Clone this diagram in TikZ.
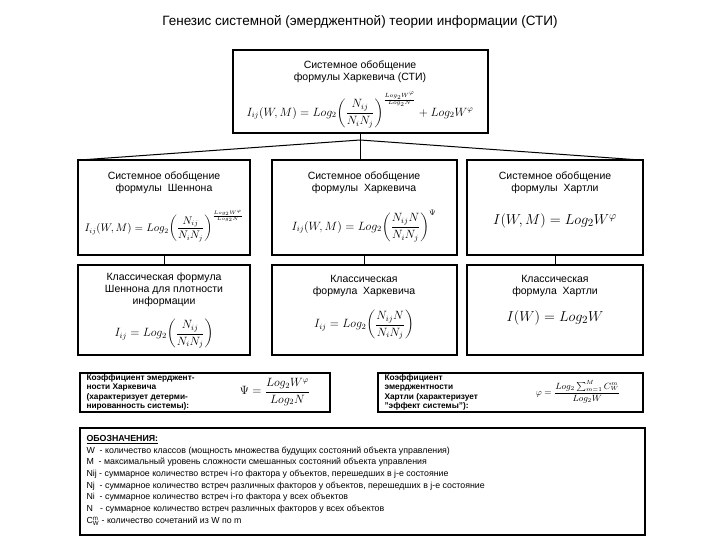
\documentclass[tikz,border=0pt]{standalone}
\usepackage{fontspec}
\usepackage{amsmath}
\setmainfont{Liberation Sans}
\begin{document}
\begin{tikzpicture}[x=1pt,y=-1pt,
  bx/.style={draw,line width=1.2pt,inner sep=0pt},
  txt/.style={align=center,font=\fontsize{10.5}{12}\selectfont},
  fm/.style={font=\fontsize{12}{14}\selectfont},
  ln/.style={line width=1pt}]
\useasboundingbox (0,0) rectangle (720,540);
\node[font=\fontsize{13.5}{15}\selectfont] (title) at (360,22) {Генезис системной (эмерджентной) теории информации (СТИ)};
% top
\draw[bx] (233,50) rectangle (488,133);
\node[txt] (t1) at (360,72) {Системное обобщение\\формулы Харкевича (СТИ)};
\node[fm] (t2) at (360,110) {$I_{ij}(W,M)=Log_2\!\left(\dfrac{N_{ij}}{N_iN_j}\right)^{\frac{Log_2W^{\varphi}}{Log_2N}}+Log_2W^{\varphi}$};
% middle row
\draw[bx] (78,160) rectangle (250,255);
\draw[bx] (272,160) rectangle (457,255);
\draw[bx] (467,160) rectangle (643,255);
\coordinate (br) at (360,140);
\draw[ln] (360,133) -- (br);
\draw[ln] (br) -- (80,160);
\draw[ln] (br) -- (640,160);
\draw[ln] (br) -- (360,160);
\node[txt] (m1) at (164,183) {Системное обобщение\\формулы \ Шеннона};
\node[font=\fontsize{10.5}{12}\selectfont] (m1f) at (164,226) {$I_{ij}(W,M)=Log_2\!\left(\dfrac{N_{ij}}{N_iN_j}\right)^{\frac{Log_2W^{\varphi}}{Log_2N}}$};
\node[txt] (m2) at (364,183) {Системное обобщение\\формулы \ Харкевича};
\node[fm] (m2f) at (364,226) {$I_{ij}(W,M)=Log_2\!\left(\dfrac{N_{ij}N}{N_iN_j}\right)^{\Psi}$};
\node[txt] (m3) at (555,183) {Системное обобщение\\формулы \ Хартли};
\node[font=\fontsize{15}{17}\selectfont] (m3f) at (555,221) {$I(W,M)=Log_2W^{\varphi}$};
% bottom row
\draw[bx] (78,265) rectangle (250,355);
\draw[bx] (272,265) rectangle (457,355);
\draw[bx] (467,265) rectangle (643,355);
\draw[ln] (164,255) -- (164,265);
\draw[ln] (364,255) -- (364,265);
\draw[ln] (555,255) -- (555,265);
\node[txt] (b1) at (164,290) {Классическая формула\\Шеннона для плотности\\информации};
\node[fm] (b1f) at (164,334) {$I_{ij}=Log_2\!\left(\dfrac{N_{ij}}{N_iN_j}\right)$};
\node[txt] (b2) at (364,286) {Классическая\\формула \ Харкевича};
\node[fm] (b2f) at (364,325) {$I_{ij}=Log_2\!\left(\dfrac{N_{ij}N}{N_iN_j}\right)$};
\node[txt] (b3) at (555,286) {Классическая\\формула \ Хартли};
\node[font=\fontsize{15}{17}\selectfont] (b3f) at (555,318) {$I(W)=Log_2W$};
% coefficient boxes
\draw[bx] (80,373) rectangle (330,412);
\node[align=left,anchor=west,font=\fontsize{8.3}{9.5}\selectfont\bfseries] (c1) at (83,392.5) {Коэффициент эмерджент-\\ности Харкевича\\(характеризует детерми-\\нированность системы):};
\node[fm] (c1f) at (275,392) {$\Psi=\dfrac{Log_2W^{\varphi}}{Log_2N}$};
\draw[bx] (378,373) rectangle (643,412);
\node[align=left,anchor=west,font=\fontsize{8.3}{9.5}\selectfont\bfseries] (c2) at (381,392.5) {Коэффициент\\эмерджентности\\Хартли (характеризует\\"эффект системы"):};
\node[font=\fontsize{9}{10}\selectfont] (c2f) at (578,392) {$\varphi=\dfrac{Log_2\sum_{m=1}^{M}C_W^m}{Log_2W}$};
% notation
\draw[bx] (80,428) rectangle (645,535);
\node[align=left,anchor=north west,font=\fontsize{8.8}{11.6}\selectfont] (n) at (83,432) {\textbf{\underline{ОБОЗНАЧЕНИЯ:}}\\
W \ - количество классов (мощность множества будущих состояний объекта управления)\\
M \ - максимальный уровень сложности смешанных состояний объекта управления\\
Nij - суммарное количество встреч i-го фактора у объектов, перешедших в j-е состояние\\
Nj \ - суммарное количество встреч различных факторов у объектов, перешедших в j-е состояние\\
Ni \ - суммарное количество встреч i-го фактора у всех объектов\\
N \ \ - суммарное количество встреч различных факторов у всех объектов\\[1pt]
$\mathrm{C}_{\mathrm{W}}^{\mathrm{m}}$ - количество сочетаний из W по m};
\end{tikzpicture}
\end{document}
